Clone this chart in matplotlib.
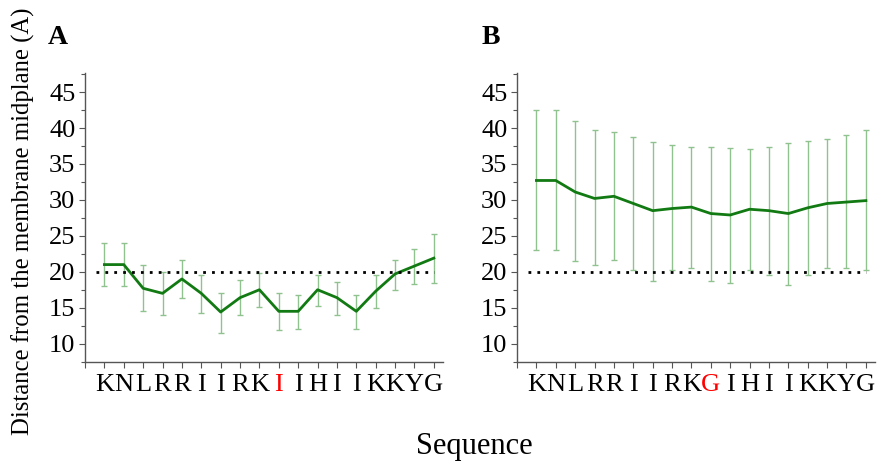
import numpy as np
import matplotlib
matplotlib.use('Agg')
import matplotlib.pyplot as plt
from matplotlib.ticker import MultipleLocator

plt.rcParams['font.family'] = ['Liberation Serif', 'DejaVu Serif']

residues_a = ['K', 'N', 'L', 'R', 'R', 'I', 'I', 'R', 'K', 'I', 'I', 'H', 'I', 'I', 'K', 'K', 'Y', 'G']
residues_b = ['K', 'N', 'L', 'R', 'R', 'I', 'I', 'R', 'K', 'G', 'I', 'H', 'I', 'I', 'K', 'K', 'Y', 'G']
highlight = 9

# panel A: mean distance, upper and lower end of error bars
mean_a = [21.0, 21.0, 17.7, 17.0, 19.0, 17.0, 14.4, 16.4, 17.5, 14.5, 14.5, 17.5, 16.4, 14.5, 17.3, 19.7, 20.8, 21.9]
top_a = [24.0, 24.0, 21.0, 20.0, 21.6, 19.6, 17.0, 18.9, 19.8, 17.0, 16.8, 19.6, 18.6, 16.8, 19.5, 21.7, 23.2, 25.2]
bot_a = [18.0, 18.0, 14.5, 14.0, 16.3, 14.3, 11.5, 14.0, 15.1, 11.9, 12.0, 15.3, 14.0, 12.0, 15.0, 17.5, 18.3, 18.5]

# panel B
mean_b = [32.7, 32.7, 31.1, 30.2, 30.5, 29.5, 28.5, 28.8, 29.0, 28.1, 27.9, 28.7, 28.5, 28.1, 28.9, 29.5, 29.7, 29.9]
top_b = [42.5, 42.5, 41.0, 39.7, 39.4, 38.7, 38.0, 37.6, 37.3, 37.3, 37.2, 37.1, 37.4, 37.9, 38.2, 38.5, 39.0, 39.7]
bot_b = [23.0, 23.0, 21.5, 20.9, 21.6, 20.3, 18.7, 20.3, 20.5, 18.7, 18.4, 20.2, 19.5, 18.2, 19.5, 20.5, 20.5, 20.3]

reference = 20

fig = plt.figure(figsize=(8.79, 4.68), dpi=100)
ax_a = fig.add_axes([0.0967, 0.2265, 0.407, 0.6175])
ax_b = fig.add_axes([0.5882, 0.2265, 0.407, 0.6175])


def draw(ax, residues, mean, top, bot, tag, tag_x):
    x = np.arange(len(residues))
    mean = np.array(mean)
    err = [mean - np.array(bot), np.array(top) - mean]
    ax.errorbar(x, mean, yerr=err, fmt='none', ecolor='#8fc28f', elinewidth=1.0,
                capsize=2.5, capthick=1.0, zorder=2)
    ax.plot(x, mean, color='#127a12', lw=2.0, zorder=3)
    ax.hlines(reference, -0.45, 17.0, colors='black', linestyles=(0, (1, 2.2)), lw=2.0, zorder=4)

    ax.set_xlim(-1, 17.46)
    ax.set_ylim(7.45, 47.65)
    ax.set_xticks(np.arange(-1, len(residues)))
    ax.set_xticklabels([''] + residues)
    for i, lab in enumerate(ax.get_xticklabels()[1:]):
        if i == highlight:
            lab.set_color('red')
    ax.yaxis.set_minor_locator(MultipleLocator(2.5))
    ax.set_yticks([10, 15, 20, 25, 30, 35, 40, 45])
    ax.tick_params(axis='both', which='major', labelsize=19, length=4, width=0.8,
                   color='#555555', pad=3)
    ax.tick_params(axis='y', which='minor', length=3, width=0.8, color='#555555')
    ax.tick_params(axis='x', pad=5)
    for s in ['top', 'right']:
        ax.spines[s].set_visible(False)
    for s in ['left', 'bottom']:
        ax.spines[s].set_color('#555555')
        ax.spines[s].set_linewidth(1.0)
    ax.text(tag_x, 1.165, tag, transform=ax.transAxes, fontsize=20, fontweight='bold',
            va='top', ha='left')


draw(ax_a, residues_a, mean_a, top_a, bot_a, 'A', -0.105)
draw(ax_b, residues_b, mean_b, top_b, bot_b, 'B', -0.1)

fig.text(0.027, 0.527, 'Distance from the membrane midplane (A)', rotation=90,
         fontsize=17.8, ha='center', va='center')
fig.text(0.540, 0.047, 'Sequence', fontsize=22, ha='center', va='center')

fig.savefig('out.png', dpi=100)
